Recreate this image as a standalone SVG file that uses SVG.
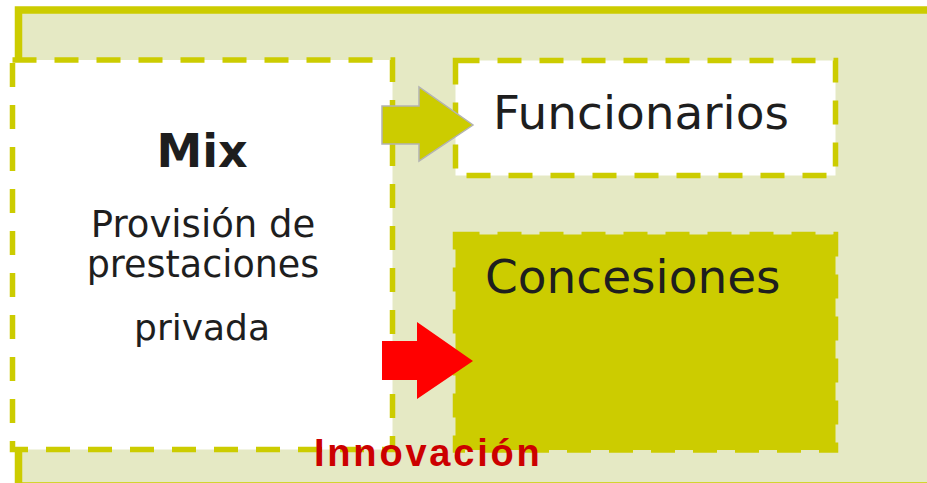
<svg xmlns="http://www.w3.org/2000/svg" width="927" height="483" viewBox="0 0 927 483">
  <style>
    .box { stroke: #cccc00; stroke-width: 5.5; stroke-dasharray: 24 18; }
    .txt { font-family: "DejaVu Sans", Verdana, sans-serif; fill: #1e1e1e; }
    .arrow-y { fill: #cccc00; stroke: #b3b3b3; stroke-width: 1.5; }
    .arrow-r { fill: #ff0000; }
  </style>
  <rect width="927" height="483" fill="#ffffff"/>
  <g id="frame">
    <rect x="18.5" y="10" width="1000" height="476" fill="#e5e9c4" stroke="#cccc00" stroke-width="7.5"/>
  </g>
  <g id="mix">
    <rect class="box" x="12.5" y="60" width="380" height="389.5" fill="#ffffff"/>
    <text class="txt" x="202" y="167" text-anchor="middle" font-size="46" font-weight="bold">Mix</text>
    <text class="txt" x="203" y="237" text-anchor="middle" font-size="37">Provisión de</text>
    <text class="txt" x="203" y="277" text-anchor="middle" font-size="36.5">prestaciones</text>
    <text class="txt" x="202" y="340" text-anchor="middle" font-size="36">privada</text>
  </g>
  <g id="funcionarios">
    <rect class="box" x="455.5" y="60.5" width="380" height="115" fill="#ffffff"/>
    <text class="txt" x="493" y="129" font-size="47">Funcionarios</text>
  </g>
  <g id="concesiones">
    <rect class="box" x="455.5" y="234.5" width="380" height="215.5" fill="#cccc00"/>
    <text class="txt" x="485" y="293" font-size="47">Concesiones</text>
  </g>
  <g id="connectors">
    <polygon class="arrow-y" points="382,106 419,106 419,87 473,125 419,161 419,144 382,144"/>
    <polygon class="arrow-r" points="382,341 417,341 417,322 473,361 417,399 417,380 382,380"/>
  </g>
  <g id="innovacion">
    <text x="314" y="466" font-family="Liberation Sans, Arial, sans-serif" font-size="38" font-weight="bold" letter-spacing="2.8" fill="#cc0000">Innovación</text>
  </g>
</svg>
